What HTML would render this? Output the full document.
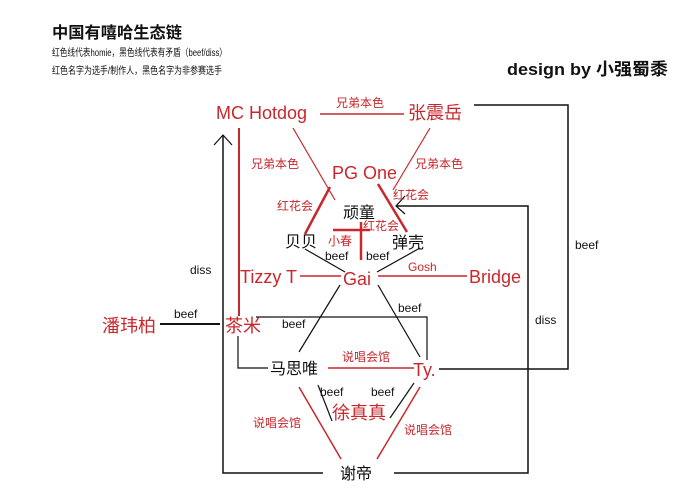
<!DOCTYPE html>
<html><head><meta charset="utf-8"><style>
body{margin:0;background:#fff}
svg{display:block}
text{font-family:"Liberation Sans","Noto Sans CJK SC",sans-serif}
.r{fill:#c8282d}.k{fill:#111}
</style></head><body>
<svg width="676" height="501" viewBox="0 0 676 501">
<text x="52" y="38" font-size="16" font-weight="bold" class="k" textLength="130" lengthAdjust="spacingAndGlyphs">中国有嘻哈生态链</text>
<text x="52" y="56" font-size="10" class="k" textLength="175" lengthAdjust="spacingAndGlyphs">红色线代表homie，黑色线代表有矛盾（beef/diss）</text>
<text x="52" y="74" font-size="10" class="k" textLength="170" lengthAdjust="spacingAndGlyphs">红色名字为选手/制作人，黑色名字为非参赛选手</text>
<text x="507" y="75" font-size="17" font-weight="bold" class="k" textLength="161" lengthAdjust="spacingAndGlyphs">design by 小强蜀黍</text>

<g stroke="#c8282d" fill="none">
<line x1="320" y1="114" x2="404" y2="114" stroke-width="1.5"/>
<line x1="239" y1="128" x2="239" y2="316" stroke-width="2"/>
<line x1="293" y1="128" x2="335" y2="200" stroke-width="1.2"/>
<line x1="430" y1="128" x2="393" y2="190" stroke-width="1.2"/>
<line x1="330" y1="187" x2="305" y2="234" stroke-width="2.5"/>
<line x1="378" y1="184" x2="407" y2="232" stroke-width="2.5"/>
<line x1="333" y1="230" x2="370" y2="230" stroke-width="2.5"/>
<line x1="361" y1="222" x2="361" y2="260" stroke-width="2.5"/>
<line x1="300" y1="276" x2="341" y2="276" stroke-width="1.5"/>
<line x1="378" y1="276" x2="467" y2="276" stroke-width="1.5"/>
<line x1="328" y1="368" x2="414" y2="368" stroke-width="1.5"/>
<line x1="299" y1="387" x2="341" y2="459" stroke-width="1.5"/>
<line x1="420" y1="387" x2="377" y2="459" stroke-width="1.5"/>
</g>
<g stroke="#111" fill="none" stroke-width="1.2">
<polyline points="474,105 568,105 568,369 439,369" stroke-width="1.5"/>
<polyline points="394,473 528,473 528,206 396,206" stroke-width="1.5"/>
<polyline points="405,196 396,206 405,214"/>
<polyline points="323,473 223,473 223,135" stroke-width="1.5"/>
<polyline points="214,145 223,135 232,145"/>
<line x1="160" y1="324" x2="220" y2="324" stroke-width="2"/>
<polyline points="256,317 427,317 427,360"/>
<polyline points="238,336 238,368 268,368"/>
<line x1="305" y1="249" x2="345" y2="272"/>
<line x1="420" y1="248" x2="377" y2="272"/>
<line x1="340" y1="285" x2="299" y2="352"/>
<line x1="378" y1="285" x2="420" y2="357"/>
<line x1="318" y1="385" x2="332" y2="421"/>
<line x1="414" y1="383" x2="390" y2="418"/>
</g>

<g font-size="18" class="r">
<text x="216" y="119">MC Hotdog</text>
<text x="408" y="119">张震岳</text>
<text x="332" y="179">PG One</text>
<text x="240" y="283">Tizzy T</text>
<text x="343" y="285">Gai</text>
<text x="469" y="283">Bridge</text>
<text x="102" y="332">潘玮柏</text>
<text x="225" y="332">茶米</text>
<text x="413" y="376">Ty.</text>
<text x="332" y="419">徐真真</text>
</g>
<g font-size="16" class="k">
<text x="343" y="218">顽童</text>
<text x="285" y="247">贝贝</text>
<text x="392" y="248">弹壳</text>
<text x="270" y="374">马思唯</text>
<text x="340" y="479">谢帝</text>
</g>
<g font-size="12" class="r">
<text x="336" y="107">兄弟本色</text>
<text x="251" y="168">兄弟本色</text>
<text x="415" y="168">兄弟本色</text>
<text x="277" y="210">红花会</text>
<text x="393" y="199">红花会</text>
<text x="363" y="230">红花会</text>
<text x="328" y="245">小春</text>
<text x="408" y="271">Gosh</text>
<text x="342" y="361">说唱会馆</text>
<text x="253" y="427">说唱会馆</text>
<text x="404" y="434">说唱会馆</text>
</g>
<g font-size="12" class="k">
<text x="325" y="260">beef</text>
<text x="366" y="260">beef</text>
<text x="190" y="274">diss</text>
<text x="174" y="318">beef</text>
<text x="282" y="328">beef</text>
<text x="398" y="312">beef</text>
<text x="320" y="396">beef</text>
<text x="371" y="396">beef</text>
<text x="575" y="249">beef</text>
<text x="535" y="324">diss</text>
</g>
</svg>
</body></html>
